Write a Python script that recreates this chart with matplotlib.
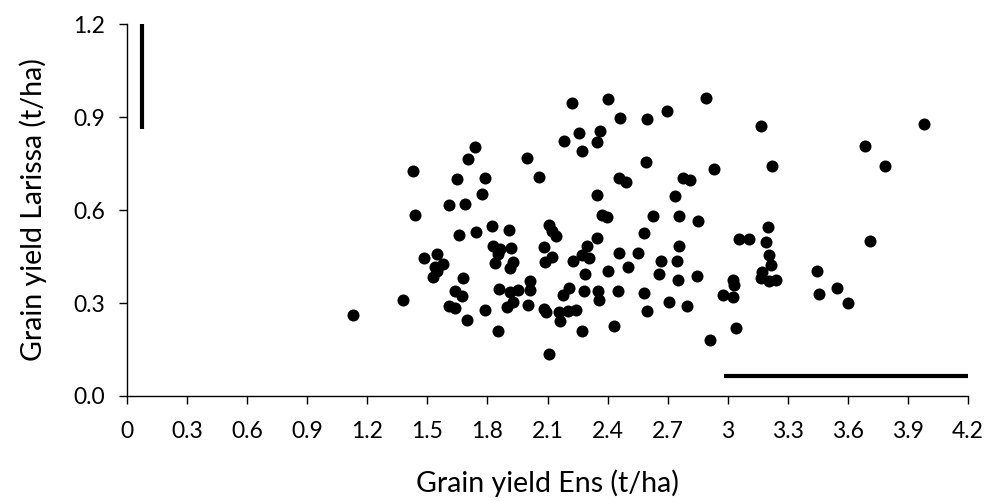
import matplotlib.pyplot as plt

plt.rcParams['font.family'] = ['Lato', 'DejaVu Sans']

# Grain yield per genotype (t/ha)
yield_ens = [
    1.13, 1.38, 1.43, 1.44, 1.485, 1.548, 1.537, 1.578, 1.547, 1.53,
    1.61, 1.64, 1.64, 1.672, 1.68, 1.70, 1.608, 1.658, 1.687, 1.647,
    1.705, 1.737, 1.79, 1.773, 1.742, 1.825, 1.907, 1.83, 1.863, 1.915,
    1.852, 1.84, 1.925, 1.91, 1.788, 1.86, 1.913, 1.95, 1.925, 1.897,
    1.855, 2.01, 2.013, 2.003, 2.083, 2.091, 2.106, 1.998, 2.058, 2.106,
    2.121, 2.143, 2.083, 2.123, 2.088, 2.224, 2.404, 2.892, 2.699, 2.464,
    2.599, 2.259, 2.363, 2.183, 2.349, 2.273, 3.164, 2.594, 2.932, 3.22,
    2.459, 2.493, 2.776, 2.812, 2.348, 2.737, 2.373, 2.399, 2.627, 2.754,
    2.849, 2.348, 2.582, 2.298, 2.271, 2.308, 2.226, 2.459, 2.554, 2.502,
    2.404, 2.288, 2.666, 2.744, 2.757, 2.657, 2.752, 2.846, 2.208, 2.179,
    2.284, 2.354, 2.358, 2.451, 2.584, 2.707, 2.796, 2.599, 2.159, 2.204,
    2.244, 2.163, 2.271, 2.434, 2.909, 3.058, 3.108, 3.028, 3.033, 2.975,
    3.028, 3.042, 3.202, 3.189, 3.208, 3.218, 3.17, 3.165, 3.208, 3.24,
    3.446, 3.455, 3.543, 3.60, 3.686, 3.783, 3.978, 3.711,
]
yield_larissa = [
    0.26, 0.31, 0.725, 0.583, 0.445, 0.458, 0.417, 0.426, 0.404, 0.383,
    0.29, 0.283, 0.339, 0.324, 0.38, 0.246, 0.616, 0.52, 0.621, 0.70,
    0.763, 0.804, 0.702, 0.651, 0.529, 0.549, 0.535, 0.485, 0.474, 0.476,
    0.458, 0.428, 0.431, 0.412, 0.276, 0.345, 0.334, 0.343, 0.304, 0.287,
    0.209, 0.372, 0.342, 0.294, 0.281, 0.27, 0.137, 0.767, 0.707, 0.552,
    0.533, 0.517, 0.48, 0.449, 0.432, 0.944, 0.958, 0.962, 0.919, 0.897,
    0.894, 0.848, 0.854, 0.823, 0.819, 0.79, 0.871, 0.756, 0.733, 0.741,
    0.702, 0.691, 0.702, 0.697, 0.648, 0.644, 0.584, 0.578, 0.581, 0.582,
    0.566, 0.51, 0.526, 0.485, 0.456, 0.446, 0.434, 0.461, 0.461, 0.417,
    0.404, 0.392, 0.435, 0.437, 0.485, 0.394, 0.373, 0.388, 0.348, 0.326,
    0.339, 0.339, 0.311, 0.338, 0.332, 0.303, 0.291, 0.274, 0.27, 0.275,
    0.278, 0.241, 0.209, 0.226, 0.18, 0.506, 0.506, 0.374, 0.358, 0.326,
    0.318, 0.22, 0.545, 0.496, 0.455, 0.424, 0.40, 0.38, 0.37, 0.375,
    0.403, 0.329, 0.347, 0.30, 0.806, 0.743, 0.877, 0.50,
]

# LSD bars
lsd_ens_x = [2.98, 4.2]
lsd_ens_y = [0.065, 0.065]
lsd_larissa_x = [0.077, 0.077]
lsd_larissa_y = [0.86, 1.2]

x_ticks = [0, 0.3, 0.6, 0.9, 1.2, 1.5, 1.8, 2.1, 2.4, 2.7, 3.0, 3.3, 3.6, 3.9, 4.2]
x_ticklabels = ['0', '0.3', '0.6', '0.9', '1.2', '1.5', '1.8', '2.1', '2.4',
                '2.7', '3', '3.3', '3.6', '3.9', '4.2']
y_ticks = [0.0, 0.3, 0.6, 0.9, 1.2]
y_ticklabels = ['0.0', '0.3', '0.6', '0.9', '1.2']

fig = plt.figure(figsize=(9.98, 5.01), dpi=100)
ax = fig.add_axes([0.1273, 0.2096, 0.8427, 0.7424])

ax.scatter(yield_ens, yield_larissa, s=75, color='black', linewidths=0, zorder=3)
ax.plot(lsd_ens_x, lsd_ens_y, color='black', lw=3, solid_capstyle='butt')
ax.plot(lsd_larissa_x, lsd_larissa_y, color='black', lw=3, solid_capstyle='butt')

ax.set_xlim(0, 4.2)
ax.set_ylim(0, 1.2)
ax.set_xticks(x_ticks)
ax.set_xticklabels(x_ticklabels)
ax.set_yticks(y_ticks)
ax.set_yticklabels(y_ticklabels)

for side in ['top', 'right']:
    ax.spines[side].set_visible(False)
for side in ['left', 'bottom']:
    ax.spines[side].set_linewidth(1.0)
    ax.spines[side].set_color('black')

ax.tick_params(axis='x', direction='out', length=6, width=1, pad=12, labelsize=16.5)
ax.tick_params(axis='y', direction='out', length=6, width=1, pad=10, labelsize=16.5)

ax.set_xlabel('Grain yield Ens (t/ha)', fontsize=20.5, labelpad=20)
ax.set_ylabel('Grain yield Larissa (t/ha)', fontsize=20.5, labelpad=19)

fig.savefig('out.png', dpi=100)
